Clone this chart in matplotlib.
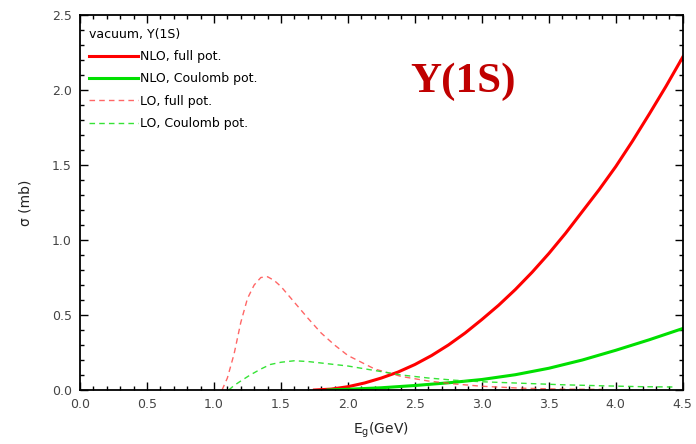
import matplotlib
matplotlib.use("Agg")
import matplotlib.pyplot as plt
from matplotlib.ticker import MultipleLocator

# NLO, full potential (red solid)
e_nlo_full = [1.75, 1.875, 2.0, 2.125, 2.25, 2.375, 2.5, 2.625, 2.75, 2.875, 3.0, 3.125,
              3.25, 3.375, 3.5, 3.625, 3.75, 3.875, 4.0, 4.125, 4.25, 4.375, 4.5]
s_nlo_full = [0.0, 0.006, 0.022, 0.047, 0.08, 0.12, 0.17, 0.23, 0.30, 0.38, 0.47, 0.565,
              0.67, 0.785, 0.91, 1.045, 1.19, 1.335, 1.49, 1.66, 1.84, 2.025, 2.22]

# NLO, Coulomb potential (green solid)
e_nlo_coul = [1.85, 2.0, 2.25, 2.5, 2.75, 3.0, 3.25, 3.5, 3.75, 4.0, 4.25, 4.5]
s_nlo_coul = [0.0, 0.005, 0.015, 0.03, 0.048, 0.07, 0.102, 0.145, 0.20, 0.265, 0.335, 0.41]

# LO, full potential (red dashed)
e_lo_full = [1.06, 1.1, 1.15, 1.2, 1.25, 1.3, 1.35, 1.4, 1.45, 1.5, 1.6, 1.7, 1.8, 1.9,
             2.0, 2.2, 2.4, 2.6, 2.8, 3.0, 3.3, 3.6, 3.9]
s_lo_full = [0.0, 0.08, 0.24, 0.45, 0.61, 0.70, 0.75, 0.755, 0.73, 0.69, 0.585, 0.48, 0.38,
             0.30, 0.23, 0.14, 0.09, 0.06, 0.04, 0.025, 0.012, 0.006, 0.004]

# LO, Coulomb potential (green dashed)
e_lo_coul = [1.11, 1.15, 1.2, 1.27, 1.35, 1.42, 1.5, 1.6, 1.7, 1.8, 1.9, 2.0, 2.2,
             2.4, 2.6, 2.8, 3.0, 3.3, 3.6, 3.9, 4.2, 4.45]
s_lo_coul = [0.0, 0.03, 0.06, 0.10, 0.14, 0.17, 0.185, 0.195, 0.19, 0.18, 0.17, 0.16, 0.13,
             0.10, 0.08, 0.065, 0.055, 0.045, 0.035, 0.028, 0.022, 0.02]

fig = plt.figure(figsize=(6.96, 4.44), dpi=100)
ax = fig.add_axes([0.115, 0.1216, 0.866, 0.8446])

ax.plot(e_nlo_full, s_nlo_full, color="#ff0000", lw=2.2, label="NLO, full pot.")
ax.plot(e_nlo_coul, s_nlo_coul, color="#00e000", lw=2.2, label="NLO, Coulomb pot.")
ax.plot(e_lo_full, s_lo_full, color="#ff4040", lw=1.0, ls=(0, (4, 3)), alpha=0.8,
        label="LO, full pot.")
ax.plot(e_lo_coul, s_lo_coul, color="#20e020", lw=1.0, ls=(0, (4, 3)), alpha=0.9,
        label="LO, Coulomb pot.")

ax.set_xlim(0, 4.5)
ax.set_ylim(0, 2.5)
ax.xaxis.set_major_locator(MultipleLocator(0.5))
ax.xaxis.set_minor_locator(MultipleLocator(0.1))
ax.yaxis.set_major_locator(MultipleLocator(0.5))
ax.yaxis.set_minor_locator(MultipleLocator(0.1))
ax.xaxis.set_major_formatter(plt.FormatStrFormatter("%.1f"))
ax.yaxis.set_major_formatter(plt.FormatStrFormatter("%.1f"))
ax.tick_params(which="both", direction="in", top=True, right=True, width=1.0,
               labelsize=9, labelcolor="#444444")
ax.tick_params(which="major", length=6, pad=6)
ax.tick_params(which="minor", length=3)
for sp in ax.spines.values():
    sp.set_linewidth(1.3)

ax.set_xlabel("E$_\\mathregular{g}$(GeV)", fontsize=10, color="#222222", labelpad=7)
ax.set_ylabel("σ (mb)", fontsize=10, color="#222222", labelpad=14)

leg = ax.legend(loc="upper left", title="vacuum, Υ(1S)", frameon=False, fontsize=9,
                title_fontsize=9, handlelength=3.9, handletextpad=0.2,
                labelspacing=0.75, borderaxespad=0.3, bbox_to_anchor=(0.0, 0.99))
leg._legend_box.align = "left"

ax.text(0.635, 0.822, "Υ(1S)", transform=ax.transAxes, ha="center", va="center",
        fontsize=31, fontweight="bold", color="#c00000", family="Liberation Serif")

fig.savefig("out.png", dpi=100)
